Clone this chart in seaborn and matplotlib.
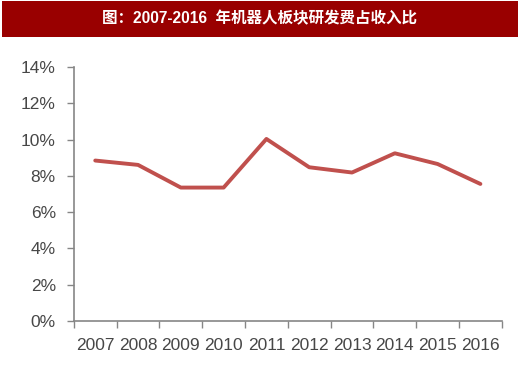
import pandas as pd
import matplotlib
matplotlib.use("Agg")
import matplotlib.pyplot as plt
import seaborn as sns
from matplotlib.patches import Rectangle
from matplotlib.ticker import FixedLocator, PercentFormatter

# 数据
years = ['2007', '2008', '2009', '2010', '2011', '2012', '2013', '2014', '2015', '2016']
ratio = [8.84, 8.60, 7.35, 7.35, 10.03, 8.47, 8.18, 9.24, 8.65, 7.55]  # 研发费占收入比 (%)
title = '图：2007-2016  年机器人板块研发费占收入比'

sns.set_style('white')
plt.rcParams['font.family'] = ['Liberation Sans', 'Noto Sans CJK SC', 'DejaVu Sans']

df = pd.DataFrame({'year': years, 'ratio': ratio})

fig = plt.figure(figsize=(5.2, 3.74), dpi=100)
ax = fig.add_axes([0.142, 0.142, 0.823, 0.679])

sns.lineplot(data=df, x='year', y='ratio', ax=ax, color='#C0504D', linewidth=2.8)

ax.set_xlim(-0.5, len(years) - 0.5)
ax.set_ylim(0, 14)
ax.yaxis.set_major_locator(FixedLocator(range(0, 15, 2)))
ax.yaxis.set_major_formatter(PercentFormatter(decimals=0))
ax.set_xlabel('')
ax.set_ylabel('')

# 类目之间的刻度（Excel 风格）
ax.xaxis.set_minor_locator(FixedLocator([i - 0.5 for i in range(len(years) + 1)]))
ax.tick_params(axis='x', which='major', length=0, pad=12, labelsize=12.5, colors='#474747')
ax.tick_params(axis='x', which='minor', length=5, width=1, color='#868686', direction='out', bottom=True)
ax.tick_params(axis='y', which='major', length=5, width=1, color='#868686', pad=8,
               labelsize=12.5, labelcolor='#474747', direction='out', left=True)

for s in ['top', 'right']:
    ax.spines[s].set_visible(False)
for s in ['left', 'bottom']:
    ax.spines[s].set_color('#868686')
    ax.spines[s].set_linewidth(1.2)

# 标题栏
fig.patches.append(Rectangle((0.004, 0.901), 0.992, 0.096, transform=fig.transFigure,
                             facecolor='#990000', edgecolor='none', zorder=0))
fig.text(0.5, 0.949, title, color='white', fontsize=11.2, fontweight='bold',
         ha='center', va='center', family=['Liberation Sans', 'Noto Sans CJK SC'])

fig.savefig('out.png', dpi=100, facecolor='white')
